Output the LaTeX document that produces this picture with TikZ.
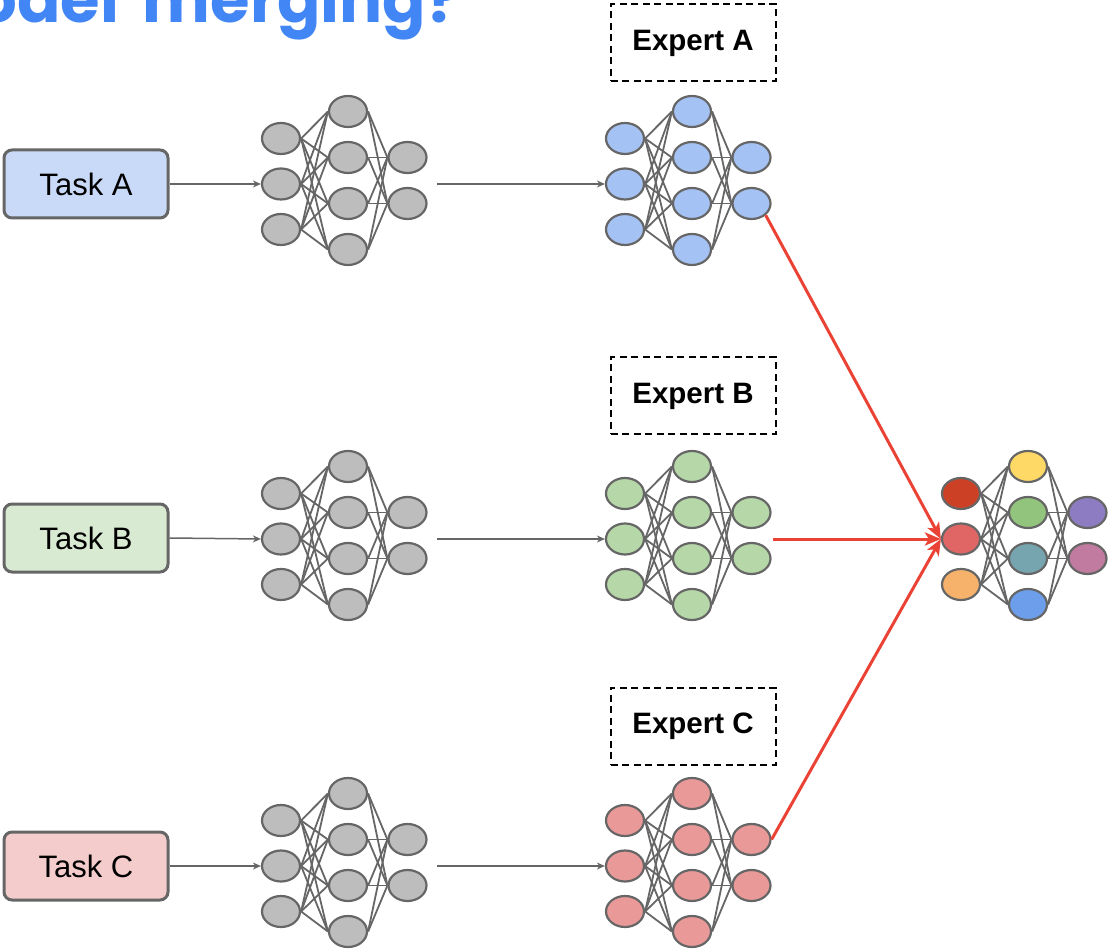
\documentclass[tikz,border=0pt]{standalone}
\usepackage{fontspec}
\setmainfont{Liberation Sans}
\newfontfamily\titlefont{Poppins}
\usetikzlibrary{arrows.meta,shapes.geometric}

\definecolor{edgegray}{HTML}{666666}
\definecolor{nodegray}{HTML}{BDBDBD}
\definecolor{titleblue}{HTML}{4285F4}
\definecolor{mergered}{HTML}{EA4335}
\definecolor{cblue}{HTML}{A4C2F4}
\definecolor{cgreen}{HTML}{B6D7A8}
\definecolor{cred}{HTML}{EA9999}
\definecolor{boxblue}{HTML}{C9DAF8}
\definecolor{boxgreen}{HTML}{D9EAD3}
\definecolor{boxred}{HTML}{F4CCCC}
\definecolor{mA}{HTML}{CC4125}
\definecolor{mB}{HTML}{E06666}
\definecolor{mC}{HTML}{F6B26B}
\definecolor{mD}{HTML}{FFD966}
\definecolor{mE}{HTML}{93C47D}
\definecolor{mF}{HTML}{76A5AF}
\definecolor{mG}{HTML}{6D9EEB}
\definecolor{mH}{HTML}{8E7CC3}
\definecolor{mI}{HTML}{C27BA0}

\tikzset{
  neuron/.style={ellipse, draw=edgegray, line width=2.2pt, minimum width=38pt, minimum height=31pt, inner sep=0pt},
  link/.style={draw=edgegray, line width=1.8pt},
  taskbox/.style={draw=edgegray, line width=3pt, rounded corners=8pt, minimum width=164pt, minimum height=68pt, font=\fontsize{31}{36}\selectfont},
  expertbox/.style={draw=black, dash pattern=on 7pt off 4.5pt, line width=2pt, minimum width=165pt, minimum height=77pt, font=\bfseries\fontsize{29.5}{34}\selectfont},
  flow/.style={draw=edgegray, line width=1.5pt, -{Stealth[length=8pt,width=7pt,inset=2.5pt]}},
  merge/.style={draw=mergered, line width=3pt, -{Stealth[length=16pt,width=13pt,inset=4pt]}},
}

% a small three-layer network: prefix, x and y of the middle input neuron,
% then the fill colours of the input, hidden and output layers
\newcommand\nnet[6]{%
  \foreach \c [count=\i] in {#4}
    \node[neuron, fill=\c] (#1-i\i) at (#2, {#3 - 45.5 + 45.5*(\i-1)}) {};
  \foreach \c [count=\i] in {#5}
    \node[neuron, fill=\c] (#1-h\i) at ({#2 + 67}, {#3 - 72.5 + 46*(\i-1)}) {};
  \foreach \c [count=\i] in {#6}
    \node[neuron, fill=\c] (#1-o\i) at ({#2 + 126.5}, {#3 - 26.5 + 46*(\i-1)}) {};
  \foreach \i in {1,2,3}
    \foreach \j in {1,2,3,4}
      \draw[link] (#1-i\i.east) -- (#1-h\j.west);
  \foreach \i in {1,2,3,4}
    \foreach \j in {1,2}
      \draw[link] (#1-h\i.east) -- (#1-o\j.west);
}

\begin{document}
\begin{tikzpicture}[x=1pt, y=-1pt]
  \useasboundingbox (0,0) rectangle (1109,949);
  \begin{scope}
    \clip (0,0) rectangle (1109,949);
    \node[anchor=base east, inner sep=0pt, text=titleblue,
          font=\titlefont\bfseries\fontsize{64}{70}\selectfont] (title) at (461,23) {Model\hspace{10pt} merging?};
  \end{scope}

  % task inputs
  \node[taskbox, fill=boxblue]  (taskA) at (86,184) {Task A};
  \node[taskbox, fill=boxgreen] (taskB) at (86,538) {Task B};
  \node[taskbox, fill=boxred]   (taskC) at (86,866) {Task C};

  % base networks
  \nnet{gA}{281}{184}{nodegray,nodegray,nodegray}{nodegray,nodegray,nodegray,nodegray}{nodegray,nodegray}
  \nnet{gB}{281}{539}{nodegray,nodegray,nodegray}{nodegray,nodegray,nodegray,nodegray}{nodegray,nodegray}
  \nnet{gC}{281}{866}{nodegray,nodegray,nodegray}{nodegray,nodegray,nodegray,nodegray}{nodegray,nodegray}

  % fine-tuned experts
  \nnet{eA}{625}{184}{cblue,cblue,cblue}{cblue,cblue,cblue,cblue}{cblue,cblue}
  \nnet{eB}{625}{539}{cgreen,cgreen,cgreen}{cgreen,cgreen,cgreen,cgreen}{cgreen,cgreen}
  \nnet{eC}{625}{866}{cred,cred,cred}{cred,cred,cred,cred}{cred,cred}

  % merged model
  \nnet{m}{961}{539}{mA,mB,mC}{mD,mE,mF,mG}{mH,mI}

  % expert labels
  \node[expertbox] (labA) at (693,43)  {Expert A};
  \node[expertbox] (labB) at (693,396) {Expert B};
  \node[expertbox] (labC) at (693,726) {Expert C};

  % tasks feed the base networks, which become experts
  \coordinate (gA-out) at (437,184);
  \coordinate (gB-out) at (437,539);
  \coordinate (gC-out) at (437,866);
  \draw[flow] (taskA.east) -- (gA-i2.west);
  \draw[flow] (taskB.east) -- (gB-i2.west);
  \draw[flow] (taskC.east) -- (gC-i2.west);
  \draw[flow] (gA-out) -- (eA-i2.west);
  \draw[flow] (gB-out) -- (eB-i2.west);
  \draw[flow] (gC-out) -- (eC-i2.west);

  % experts merged into one model
  \coordinate (eB-out) at (773,539);
  \draw[merge] (eA-o2.south east) -- (m-i2.west);
  \draw[merge] (eB-out) -- (m-i2.west);
  \draw[merge] (eC-o1.east) -- (m-i2.west);
\end{tikzpicture}
\end{document}
